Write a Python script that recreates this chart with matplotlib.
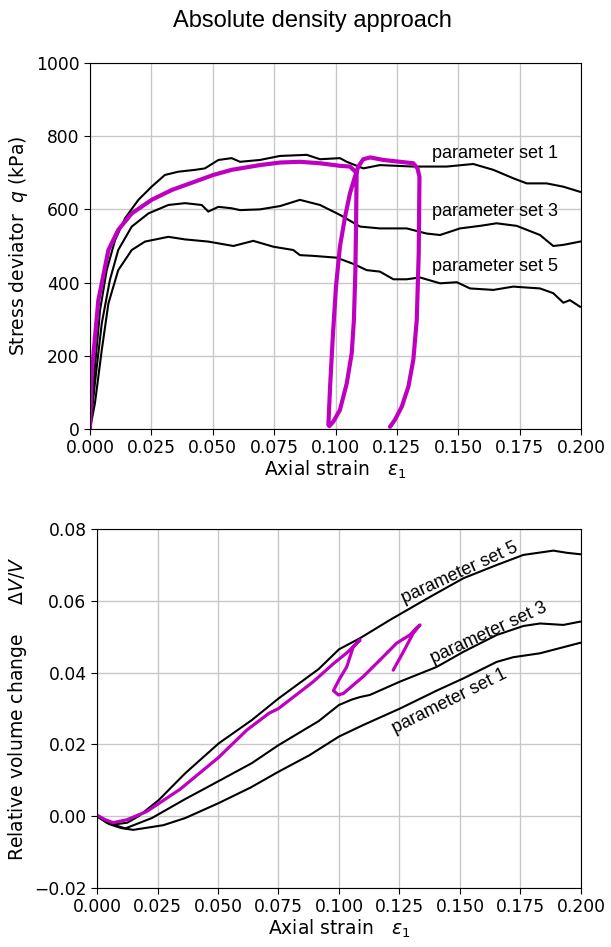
import numpy as np
import matplotlib
matplotlib.use("Agg")
import matplotlib.pyplot as plt

plt.rcParams['font.family'] = ['DejaVu Sans']
plt.rcParams['mathtext.fontset'] = 'dejavusans'

# ---- stress deviator q (kPa) vs axial strain ----
e_q1 = [0, 0.002, 0.0041, 0.0068, 0.0102, 0.0143, 0.0197, 0.0251, 0.0305, 0.036, 0.0428, 0.0468, 0.0523,
        0.0577, 0.0611, 0.0692, 0.0774, 0.0883, 0.0937, 0.1018, 0.1046, 0.1113, 0.1181, 0.1317, 0.1453,
        0.1561, 0.1643, 0.1724, 0.1779, 0.186, 0.1928, 0.1996]
q1 = [0, 170, 325, 434, 516, 576, 626, 662, 694, 703, 708, 712, 735,
      740, 730, 735, 746, 749, 737, 740, 730, 712, 721, 717, 717,
      724, 708, 685, 671, 671, 662, 648]

e_q3 = [0, 0.002, 0.0048, 0.0081, 0.0115, 0.017, 0.0238, 0.0319, 0.0387, 0.0455, 0.0482, 0.0523, 0.0577,
        0.0611, 0.0692, 0.0774, 0.0855, 0.0937, 0.1018, 0.11, 0.1181, 0.129, 0.1371, 0.1426, 0.1507,
        0.1589, 0.1656, 0.1738, 0.1833, 0.1887, 0.1928, 0.1996]
q3 = [0, 125, 289, 407, 489, 553, 589, 612, 617, 612, 594, 607, 603,
      598, 600, 609, 626, 612, 585, 553, 548, 548, 534, 530, 548,
      555, 562, 555, 530, 500, 503, 512]

e_q5 = [0, 0.002, 0.0048, 0.0075, 0.0115, 0.017, 0.0224, 0.0319, 0.0387, 0.0482, 0.0584, 0.0665, 0.0747,
        0.0828, 0.0855, 0.091, 0.1005, 0.1073, 0.1127, 0.1181, 0.1236, 0.129, 0.1344, 0.1426, 0.1494,
        0.1548, 0.1643, 0.1724, 0.1833, 0.1887, 0.1928, 0.1955, 0.1996]
q5 = [0, 70, 216, 343, 434, 489, 512, 525, 518, 512, 500, 514, 498,
      489, 475, 473, 468, 451, 434, 430, 409, 409, 414, 398, 401,
      384, 380, 389, 384, 371, 345, 352, 334]

# magenta path with two unload / reload cycles
e_qm = [0, 0.0007, 0.0034, 0.0075, 0.0115, 0.017, 0.0251, 0.0333, 0.0428, 0.0502, 0.0577, 0.0692, 0.0774,
        0.0855, 0.0937, 0.1018, 0.1059, 0.1086,
        0.1084, 0.1081, 0.1075, 0.1066, 0.1046, 0.1018, 0.0991, 0.0975,
        0.0971, 0.0978, 0.0989, 0.1002, 0.1018, 0.1039, 0.1059, 0.1079, 0.1093, 0.1113, 0.1141,
        0.1195, 0.1263, 0.1317, 0.1334,
        0.1342, 0.1339, 0.1331, 0.1317, 0.1297, 0.127, 0.1242, 0.1222]
qm = [0, 152, 352, 489, 544, 589, 626, 653, 676, 694, 708, 721, 728,
      730, 726, 719, 717, 700,
      571, 434, 298, 207, 125, 52, 20, 8,
      11, 116, 252, 389, 498, 580, 644, 689, 717, 737, 742,
      735, 730, 726, 712,
      689, 480, 298, 189, 116, 61, 25, 6]

# ---- relative volume change dV/V vs axial strain ----
e_v5 = [0, 0.004, 0.0081, 0.0125, 0.0172, 0.0255, 0.0365, 0.0503, 0.064, 0.075, 0.0916, 0.1, 0.1087,
        0.1211, 0.1376, 0.1514, 0.1652, 0.1762, 0.1886, 0.1941, 0.1996]
v5 = [0, -0.0015, -0.0022, -0.0018, 0, 0.0045, 0.012, 0.0203, 0.0268, 0.0328, 0.041, 0.0465, 0.0496,
      0.0547, 0.0611, 0.0663, 0.07, 0.0728, 0.074, 0.0734, 0.073]

e_v3 = [0, 0.004, 0.0117, 0.0227, 0.0365, 0.0503, 0.064, 0.075, 0.0916, 0.1, 0.1053, 0.1087, 0.1128,
        0.1252, 0.1404, 0.1514, 0.1652, 0.1762, 0.1831, 0.1927, 0.1996]
v3 = [0, -0.0018, -0.0034, -0.0005, 0.0048, 0.0098, 0.0148, 0.0198, 0.0265, 0.031, 0.0325, 0.0332, 0.0338,
      0.0375, 0.0416, 0.0458, 0.0505, 0.053, 0.0537, 0.0533, 0.0542]

e_v1 = [0, 0.005, 0.01, 0.015, 0.0274, 0.0365, 0.0501, 0.0635, 0.075, 0.0878, 0.1, 0.11, 0.1252, 0.1404,
        0.1514, 0.1652, 0.172, 0.1831, 0.1996]
v1 = [0, -0.0022, -0.0033, -0.0038, -0.0025, -0.0005, 0.0036, 0.008, 0.0124, 0.017, 0.0222, 0.0254, 0.03,
      0.035, 0.0384, 0.043, 0.0443, 0.0454, 0.0483]

e_vm = [0, 0.0035, 0.0067, 0.0123, 0.0205, 0.0343, 0.0501, 0.0619, 0.0711, 0.075, 0.0894, 0.0977, 0.1032,
        0.1087,
        0.1059, 0.1032, 0.1, 0.0977, 0.0997, 0.1018, 0.11, 0.1169, 0.1238, 0.1293, 0.1321, 0.1335,
        0.1307, 0.1266, 0.1224]
vm = [0.0003, -0.001, -0.0018, -0.001, 0.0013, 0.0075, 0.0163, 0.024, 0.0287, 0.0300, 0.0375, 0.0425, 0.0455,
      0.0491,
      0.0472, 0.0416, 0.038, 0.035, 0.0338, 0.0342, 0.0389, 0.0435, 0.0482, 0.0505, 0.0525, 0.0533,
      0.051, 0.0458, 0.0407]

labels = ['parameter set 1', 'parameter set 3', 'parameter set 5']
q_lab_y = [753, 594, 443]
v_lab_xy = [(0.1459, 0.0319), (0.1617, 0.0511), (0.150, 0.0677)]
v_lab_rot = [26.5, 24.6, 24.6]

black_lw = 1.5
mag = '#c000c0'
xt = np.arange(0, 0.2001, 0.025)

fig = plt.figure(figsize=(6.11, 9.47), dpi=100)
ax1 = fig.add_axes([0.1473, 0.547, 0.8036, 0.3865])
ax2 = fig.add_axes([0.1588, 0.0623, 0.792, 0.379])

for ax in (ax1, ax2):
    ax.grid(True, color='#c8c8c8', linewidth=1)
    ax.set_axisbelow(True)
    ax.tick_params(labelsize=12.3, direction='out', length=4)
    ax.set_xlim(0, 0.2)
    ax.set_xticks(xt)
    ax.set_xticklabels(['%.3f' % t for t in xt])
    ax.set_xlabel(r'Axial strain   $\varepsilon_1$', fontsize=13.5, labelpad=1)

ax1.plot(e_q1, q1, color='black', lw=black_lw)
ax1.plot(e_q3, q3, color='black', lw=black_lw)
ax1.plot(e_q5, q5, color='black', lw=black_lw)
ax1.plot(e_qm, qm, color=mag, lw=3, solid_capstyle='round')
ax1.set_ylim(0, 1000)
ax1.set_yticks(range(0, 1001, 200))
ax1.set_ylabel(r'Stress deviator  $q$ (kPa)', fontsize=13.5)
for lab, y in zip(labels, q_lab_y):
    ax1.text(0.1392, y, lab, fontsize=13, family='Liberation Sans', ha='left', va='center')

ax2.plot(e_v1, v1, color='black', lw=black_lw)
ax2.plot(e_v3, v3, color='black', lw=black_lw)
ax2.plot(e_v5, v5, color='black', lw=black_lw)
ax2.plot(e_vm, vm, color=mag, lw=2.3, solid_capstyle='round')
ax2.set_ylim(-0.02, 0.08)
yt = np.arange(-0.02, 0.0801, 0.02)
ax2.set_yticks(yt)
ax2.set_yticklabels([('%.2f' % abs(t)) if t > -1e-9 else '\u2212%.2f' % abs(t) for t in yt])
ax2.set_ylabel(r'Relative volume change     $\Delta V/V$', fontsize=13.5)
for lab, (x, y), r in zip(labels, v_lab_xy, v_lab_rot):
    ax2.text(x, y, lab, fontsize=13, family='Liberation Sans', ha='center', va='center',
             rotation=r, rotation_mode='anchor')

fig.text(0.5115, 0.978, 'Absolute density approach', fontsize=17, family='Liberation Sans',
         ha='center', va='center')

fig.savefig('out.png', dpi=100)
